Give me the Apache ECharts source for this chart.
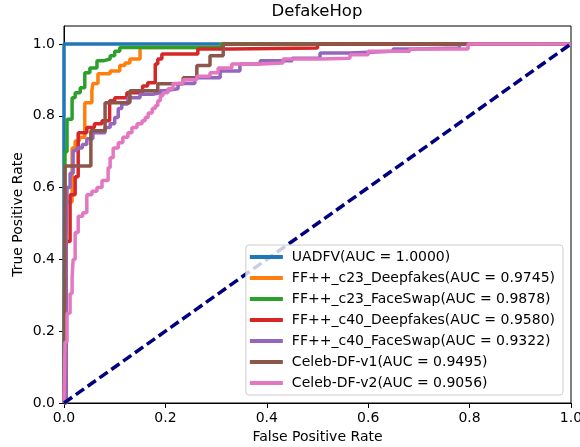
<!DOCTYPE html>
<html>
<head>
<meta charset="utf-8">
<script src="https://cdn.jsdelivr.net/npm/echarts@6/dist/echarts.min.js"></script>
<style>
  html, body { margin: 0; padding: 0; background: #fff; }
  #roc { width: 580px; height: 447px; }
</style>
</head>
<body>
<div id="roc"></div>
<script>
  // ROC points [fpr, tpr]
  const uadfv = [[0, 0], [0, 1], [1, 1]]
  const c23Deepfakes = [[0, 0], [0.004, 0.56], [0.016, 0.71], [0.022, 0.73], [0.03, 0.74], [0.041, 0.836],
    [0.055, 0.87], [0.057, 0.89], [0.067, 0.917], [0.091, 0.925], [0.11, 0.94], [0.12, 0.947],
    [0.13, 0.958], [0.15, 0.99], [0.31, 1], [1, 1]]
  const c23FaceSwap = [[0, 0], [0.002, 0.7], [0.006, 0.79], [0.016, 0.85], [0.022, 0.864], [0.032, 0.878],
    [0.041, 0.92], [0.051, 0.933], [0.065, 0.953], [0.077, 0.958], [0.091, 0.967], [0.1, 0.98],
    [0.11, 0.99], [0.31, 1], [1, 1]]
  const c40Deepfakes = [[0, 0], [0.004, 0.45], [0.012, 0.58], [0.022, 0.63], [0.028, 0.753], [0.045, 0.767],
    [0.06, 0.778], [0.075, 0.786], [0.09, 0.842], [0.1, 0.85], [0.124, 0.864], [0.155, 0.883],
    [0.165, 0.892], [0.18, 0.944], [0.185, 0.958], [0.193, 0.972], [0.264, 0.986], [0.327, 0.989],
    [0.5, 1], [1, 1]]
  const c40FaceSwap = [[0, 0], [0.004, 0.46], [0.006, 0.6], [0.012, 0.64], [0.018, 0.703], [0.025, 0.71],
    [0.036, 0.72], [0.045, 0.736], [0.057, 0.753], [0.081, 0.767], [0.091, 0.778], [0.1, 0.795],
    [0.107, 0.82], [0.114, 0.833], [0.126, 0.85], [0.15, 0.86], [0.175, 0.864], [0.19, 0.87],
    [0.2, 0.875], [0.225, 0.89], [0.258, 0.906], [0.308, 0.925], [0.347, 0.944], [0.387, 0.953],
    [0.45, 0.96], [0.505, 0.975], [0.564, 0.98], [0.649, 0.986], [0.686, 0.989], [0.78, 1], [1, 1]]
  const celebV1 = [[0, 0], [0.002, 0.66], [0.053, 0.758], [0.081, 0.836], [0.13, 0.87], [0.185, 0.889],
    [0.235, 0.906], [0.262, 0.94], [0.288, 0.967], [0.314, 1], [1, 1]]
  const celebV2 = [[0, 0], [0.002, 0.17], [0.006, 0.25], [0.012, 0.305], [0.016, 0.35], [0.018, 0.4],
    [0.022, 0.475], [0.028, 0.52], [0.037, 0.53], [0.045, 0.58], [0.055, 0.59], [0.065, 0.6],
    [0.075, 0.62], [0.087, 0.655], [0.091, 0.683], [0.097, 0.71], [0.107, 0.725], [0.116, 0.74],
    [0.126, 0.753], [0.134, 0.767], [0.144, 0.778], [0.154, 0.786], [0.16, 0.795], [0.166, 0.808],
    [0.174, 0.82], [0.18, 0.828], [0.185, 0.842], [0.19, 0.856], [0.195, 0.864], [0.205, 0.875],
    [0.215, 0.89], [0.235, 0.9], [0.262, 0.91], [0.288, 0.92], [0.304, 0.933], [0.331, 0.944],
    [0.39, 0.947], [0.432, 0.958], [0.505, 0.96], [0.564, 0.97], [0.6, 0.98], [0.682, 0.986],
    [0.797, 1], [1, 1]]
  const chance = [[0, 0], [1, 1]]

  const names = ['UADFV(AUC = 1.0000)', 'FF++_c23_Deepfakes(AUC = 0.9745)', 'FF++_c23_FaceSwap(AUC = 0.9878)',
    'FF++_c40_Deepfakes(AUC = 0.9580)', 'FF++_c40_FaceSwap(AUC = 0.9322)', 'Celeb-DF-v1(AUC = 0.9495)',
    'Celeb-DF-v2(AUC = 0.9056)']
  const curves = [uadfv, c23Deepfakes, c23FaceSwap, c40Deepfakes, c40FaceSwap, celebV1, celebV2]
  const colors = ['#1f77b4', '#ff7f0e', '#2ca02c', '#d62728', '#9467bd', '#8c564b', '#e377c2']
  const xTicks = [0, 0.2, 0.4, 0.6, 0.8, 1.0]
  const yTicks = [0, 0.2, 0.4, 0.6, 0.8, 1.0]

  const font = 'DejaVu Sans'
  const chart = echarts.init(document.getElementById('roc'))

  const series = curves.map((pts, i) => ({
    name: names[i],
    type: 'line',
    step: 'end',
    data: pts,
    symbol: 'none',
    lineStyle: { color: colors[i], width: 3.5 },
    itemStyle: { color: colors[i] }
  }))
  series.push({
    type: 'line',
    data: chance,
    symbol: 'none',
    lineStyle: { color: '#000080', width: 3.5, type: [10, 4.5] }
  })

  const option = {
    animation: false,
    title: {
      text: 'DefakeHop',
      left: 317,
      top: 3,
      padding: 0,
      textAlign: 'center',
      textStyle: { fontFamily: font, fontSize: 16.5, fontWeight: 'normal', color: '#000' }
    },
    grid: {
      left: 64, right: 9, top: 26, bottom: 44,
      outerBoundsMode: 'none',
      containLabel: false,
      show: true, borderColor: '#000', borderWidth: 1
    },
    legend: {
      data: names,
      orient: 'vertical',
      right: 17,
      bottom: 52,
      icon: 'rect',
      itemWidth: 33,
      itemHeight: 4,
      itemGap: 5,
      padding: [4, 8, 4, 4],
      backgroundColor: 'rgba(255,255,255,0.8)',
      borderColor: '#cccccc',
      borderWidth: 1,
      borderRadius: 3,
      textStyle: { fontFamily: font, fontSize: 14, lineHeight: 16, color: '#000', padding: [0, 0, 0, 4] }
    },
    xAxis: {
      type: 'value',
      min: 0, max: 1, interval: 0.2,
      name: 'False Positive Rate',
      nameLocation: 'middle',
      nameGap: 27,
      nameMoveOverlap: false,
      nameTextStyle: { fontFamily: font, fontSize: 14, color: '#000' },
      axisLine: { show: true, lineStyle: { color: '#000', width: 1 } },
      axisTick: { show: true, length: 5, lineStyle: { color: '#000' }, customValues: xTicks },
      axisLabel: { fontFamily: font, fontSize: 14, color: '#000', margin: 8, customValues: xTicks,
        formatter: v => v.toFixed(1) },
      splitLine: { show: false }
    },
    yAxis: {
      type: 'value',
      min: 0, max: 1.05, interval: 0.2,
      name: 'True Positive Rate',
      nameLocation: 'middle',
      nameGap: 39,
      nameMoveOverlap: false,
      nameTextStyle: { fontFamily: font, fontSize: 14, color: '#000' },
      axisLine: { show: true, lineStyle: { color: '#000', width: 1 } },
      axisTick: { show: true, length: 5, lineStyle: { color: '#000' }, customValues: yTicks },
      axisLabel: { fontFamily: font, fontSize: 14, color: '#000', margin: 9, customValues: yTicks,
        formatter: v => (v > 1.001 ? '' : v.toFixed(1)) },
      splitLine: { show: false }
    },
    series: series
  }

  chart.setOption(option)
</script>
</body>
</html>
